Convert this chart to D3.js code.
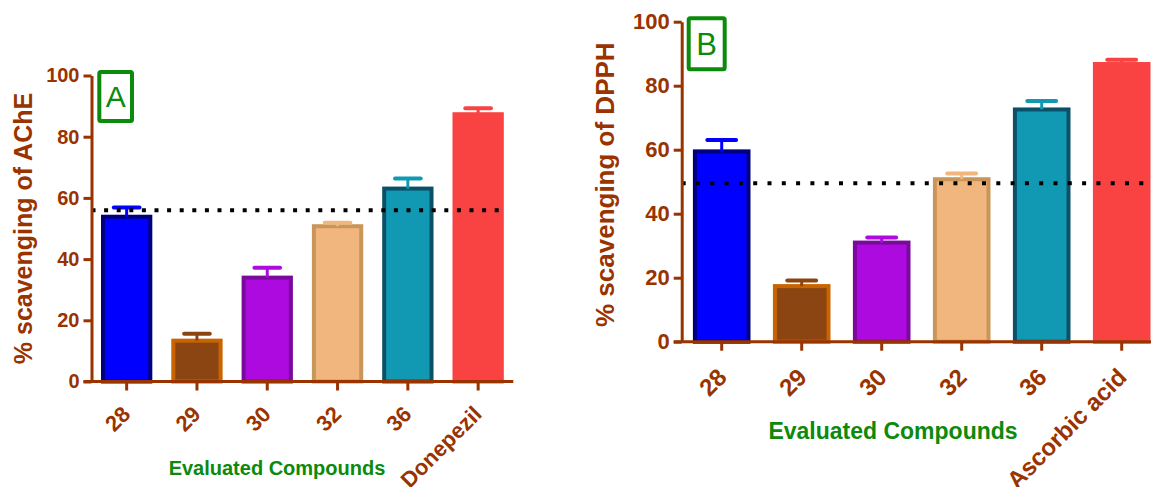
<!DOCTYPE html>
<html>
<head>
<meta charset="utf-8">
<script src="https://cdn.jsdelivr.net/npm/d3@7"></script>
<style>
  html, body { margin: 0; padding: 0; background: #ffffff; }
  svg { display: block; }
  text { font-family: "Liberation Sans", Arial, sans-serif; }
</style>
</head>
<body>
<svg id="chart" width="1151" height="487"></svg>
<script>
// ---- data ----
const categoriesA = ["28", "29", "30", "32", "36", "Donepezil"];
const valuesA = [54.5, 14.0, 34.6, 51.4, 63.7, 88.0];
const errorsA = [2.4, 1.6, 2.6, 0.5, 2.6, 1.3];
const thresholdA = 56;

const categoriesB = ["28", "29", "30", "32", "36", "Ascorbic acid"];
const valuesB = [60.1, 18.0, 31.6, 51.4, 73.2, 87.4];
const errorsB = [2.9, 1.1, 1.0, 1.2, 2.0, 0.7];
const thresholdB = 49.5;

const yTicks = [0, 20, 40, 60, 80, 100];
const yDomain = [0, 100];

// ---- styling ----
const barFills   = ["#0000ff", "#8b4513", "#ad0ae0", "#f1b67d", "#1199b4", "#f94343"];
const barStrokes = ["#00007f", "#c96400", "#7a0a9c", "#c9965a", "#0a5068", "#f94343"];
const axisColor = "#993300";
const titleGreen = "#0b8a0b";

const svg = d3.select("#chart");
svg.append("rect").attr("width", 1151).attr("height", 487).attr("fill", "#fff");

function drawPanel(cfg) {
  const g = svg.append("g");

  const x = d3.scaleBand()
    .domain(cfg.categories)
    .range([cfg.left, cfg.right])
    .paddingInner(cfg.pad)
    .paddingOuter(cfg.pad / 2);

  const y = d3.scaleLinear().domain(yDomain).range([cfg.bottom, cfg.top]);

  const rows = cfg.categories.map((c, i) => ({
    c, v: cfg.values[i], e: cfg.errors[i], fill: barFills[i], stroke: barStrokes[i]
  }));

  // bars (border drawn inside the band width)
  const sw = 4;
  g.selectAll("rect.bar").data(rows).join("rect")
    .attr("class", "bar")
    .attr("x", d => x(d.c) + sw / 2)
    .attr("y", d => y(d.v) + sw / 2)
    .attr("width", x.bandwidth() - sw)
    .attr("height", d => y(0) - y(d.v) - sw / 2)
    .attr("fill", d => d.fill)
    .attr("stroke", d => d.stroke)
    .attr("stroke-width", sw);

  // error bars (upper half only)
  const capW = x.bandwidth() * 0.5;
  const eb = g.selectAll("g.err").data(rows).join("g").attr("class", "err");
  eb.append("line")
    .attr("x1", d => x(d.c) + x.bandwidth() / 2)
    .attr("x2", d => x(d.c) + x.bandwidth() / 2)
    .attr("y1", d => y(d.v) + 2)
    .attr("y2", d => y(d.v + d.e))
    .attr("stroke", d => d.fill)
    .attr("stroke-width", 3);
  eb.append("line")
    .attr("x1", d => x(d.c) + x.bandwidth() / 2 - capW / 2)
    .attr("x2", d => x(d.c) + x.bandwidth() / 2 + capW / 2)
    .attr("y1", d => y(d.v + d.e))
    .attr("y2", d => y(d.v + d.e))
    .attr("stroke", d => d.fill)
    .attr("stroke-width", 4)
    .attr("stroke-linecap", "round");

  // threshold dotted line
  g.append("line")
    .attr("x1", cfg.left)
    .attr("x2", cfg.dotEnd)
    .attr("y1", y(cfg.threshold))
    .attr("y2", y(cfg.threshold))
    .attr("stroke", "#000")
    .attr("stroke-width", 4)
    .attr("stroke-dasharray", cfg.dash);

  // y axis
  const yAxis = d3.axisLeft(y).tickValues(yTicks).tickSize(8).tickSizeOuter(0).tickPadding(4);
  const ga = g.append("g").attr("transform", `translate(${cfg.left},0)`).call(yAxis);
  ga.select(".domain").attr("stroke", axisColor).attr("stroke-width", 3);
  ga.selectAll(".tick line").attr("stroke", axisColor).attr("stroke-width", 3);
  ga.selectAll(".tick text")
    .attr("fill", axisColor)
    .attr("font-size", cfg.tickFont)
    .attr("font-weight", "bold");

  // x axis
  const xAxis = d3.axisBottom(x).tickSize(9).tickSizeOuter(0).tickPadding(0);
  const gx = g.append("g").attr("transform", `translate(0,${cfg.bottom})`).call(xAxis);
  gx.select(".domain").remove();
  gx.append("line")
    .attr("x1", cfg.left - 8).attr("x2", cfg.right)
    .attr("y1", 0).attr("y2", 0)
    .attr("stroke", axisColor).attr("stroke-width", 3);
  gx.selectAll(".tick line").attr("stroke", axisColor).attr("stroke-width", 3);
  gx.selectAll(".tick text")
    .attr("fill", axisColor)
    .attr("font-size", cfg.xTickFont)
    .attr("font-weight", "bold")
    .attr("text-anchor", "end")
    .attr("dy", null)
    .attr("y", 0)
    .attr("transform", `translate(${cfg.labelDx},${cfg.labelDy}) rotate(-45)`);

  // axis titles
  g.append("text")
    .attr("transform", `translate(${cfg.yTitleX},${(cfg.top + cfg.bottom) / 2 + cfg.yTitleShift}) rotate(-90)`)
    .attr("text-anchor", "middle")
    .attr("font-size", cfg.yTitleFont)
    .attr("font-weight", "bold")
    .attr("fill", axisColor)
    .text(cfg.yTitle);

  g.append("text")
    .attr("x", cfg.xTitleX)
    .attr("y", cfg.xTitleY)
    .attr("text-anchor", "middle")
    .attr("font-size", cfg.xTitleFont)
    .attr("font-weight", "bold")
    .attr("fill", titleGreen)
    .text("Evaluated Compounds");

  // panel letter in a box
  g.append("rect")
    .attr("x", cfg.left + cfg.box[0])
    .attr("y", cfg.top + cfg.box[1])
    .attr("width", cfg.box[2])
    .attr("height", cfg.box[3])
    .attr("fill", "#fff")
    .attr("stroke", titleGreen)
    .attr("stroke-width", 4)
    .attr("rx", 1.5);
  g.append("text")
    .attr("x", cfg.left + cfg.box[0] + cfg.box[2] / 2)
    .attr("y", cfg.top + cfg.box[1] + cfg.box[3] / 2 + cfg.letterFont * 0.36)
    .attr("text-anchor", "middle")
    .attr("font-size", cfg.letterFont)
    .attr("fill", titleGreen)
    .text(cfg.letter);
}

drawPanel({
  categories: categoriesA, values: valuesA, errors: errorsA, threshold: thresholdA,
  left: 91.5, right: 513.3, top: 75.5, bottom: 381.5, pad: 0.27,
  dotEnd: 502, dash: "4 8.6",
  tickFont: 20, xTickFont: 22, labelDx: 5, labelDy: 34,
  yTitle: "% scavenging of AChE", yTitleX: 32, yTitleFont: 25, yTitleShift: 0,
  xTitleX: 277, xTitleY: 475, xTitleFont: 20,
  box: [7.8, -3.5, 32.7, 49], letter: "A", letterFont: 30
});

drawPanel({
  categories: categoriesB, values: valuesB, errors: errorsB, threshold: thresholdB,
  left: 681.7, right: 1161.7, top: 21.7, bottom: 341.7, pad: 0.28,
  dotEnd: 1151, dash: "4 10.3",
  tickFont: 22, xTickFont: 24, labelDx: 6.5, labelDy: 37,
  yTitle: "% scavenging of DPPH", yTitleX: 614, yTitleFont: 26, yTitleShift: 3,
  xTitleX: 893, xTitleY: 439, xTitleFont: 23,
  box: [7, -3.4, 36, 51], letter: "B", letterFont: 31
});
</script>
</body>
</html>
